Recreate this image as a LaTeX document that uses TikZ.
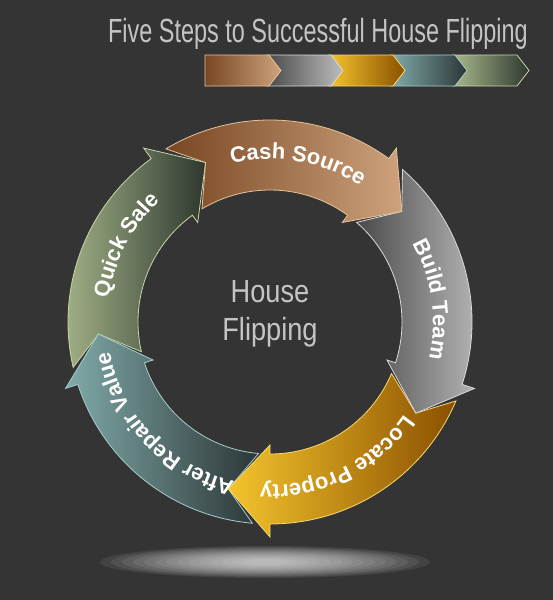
\documentclass[tikz,border=0pt]{standalone}
\usepackage{fontspec}
\setmainfont{Liberation Sans}
\newfontfamily\titlefam[FakeStretch=0.7]{Liberation Sans}
\newfontfamily\hubfam[FakeStretch=0.85]{Liberation Sans}
\usepackage{tikz}
\usetikzlibrary{positioning,decorations.text}

\definecolor{bgcol}{HTML}{343434}
\definecolor{titlegray}{HTML}{C4C4C4}
\definecolor{cashL}{HTML}{774722}\definecolor{cashR}{HTML}{CDA27C}\definecolor{cashO}{HTML}{E6C29A}
\definecolor{teamL}{HTML}{4A4A4A}\definecolor{teamR}{HTML}{BDBDBD}\definecolor{teamO}{HTML}{DADADA}
\definecolor{propL}{HTML}{F4C42C}\definecolor{propR}{HTML}{8A5000}\definecolor{propO}{HTML}{F8D870}
\definecolor{arvL}{HTML}{80ABAA}\definecolor{arvR}{HTML}{2C3636}\definecolor{arvO}{HTML}{A8CCCC}
\definecolor{saleL}{HTML}{A9B98C}\definecolor{saleR}{HTML}{2E382F}\definecolor{saleO}{HTML}{C8D6A8}

\newcommand{\segfont}{\bfseries\fontsize{22}{22}\selectfont}

% one arrow of the ring: tip angle, colour prefix, label
\newcommand{\ringseg}[3]{%
  \pgfmathsetmacro{\tailA}{#1+81}%
  \pgfmathsetmacro{\headA}{#1+14}%
  \pgfmathsetmacro{\notchA}{#1+72}%
  \pgfmathsetmacro{\textA}{#1+80}%
  \path[segment, left color=#2L, right color=#2R, draw=#2O]
    (\tailA:202) arc[start angle=\tailA, end angle=\headA, radius=202]
    -- (\headA:215) -- (#1:172) -- (\headA:123) -- (\headA:132)
    arc[start angle=\headA, end angle=\tailA, radius=132]
    -- (\notchA:172) -- cycle;
  \path[decorate, decoration={text along path, text align=center, text color=white,
    text={|\segfont|#3}}] (\textA:163) arc[start angle=\textA, end angle=#1, radius=163];
}

% one chevron of the legend: left x, colour prefix, notch depth
\newcommand{\legchev}[3]{%
  \path[segment, left color=#2L, right color=#2R, draw=#2O]
    (#1,-55) -- ++(64,0) -- ++(12,-15.5) -- ++(-12,-15.5) -- ++(-64,0)
    -- ++(#3,15.5) -- cycle;
}

\begin{document}
\begin{tikzpicture}[x=1pt,y=1pt]
\tikzstyle{segment}=[line width=0.8pt, line join=miter]
\tikzstyle{hubtext}=[align=center, text=titlegray, inner sep=0pt, font=\hubfam\fontsize{32}{38}\selectfont]

\useasboundingbox (0,0) rectangle (553,-600);
\fill[bgcol] (0,0) rectangle (553,-600);

\node[anchor=base east, inner sep=0pt, text=titlegray, font=\titlefam\fontsize{33.5}{34}\selectfont]
  (title) at (528,-42) {Five Steps to Successful House Flipping};

\legchev{453}{sale}{11}
\legchev{391}{arv}{11}
\legchev{329}{prop}{11}
\legchev{267}{team}{11}
\legchev{205}{cash}{0}

\coordinate (hub) at (270,-322);
\begin{scope}[shift={(hub)}]
\ringseg{112}{sale}{Quick Sale}
\ringseg{184}{arv}{After Repair Value}
\ringseg{256}{prop}{Locate Property}
\ringseg{328}{team}{Build Team}
\ringseg{40}{cash}{Cash Source}
\end{scope}

\node[hubtext] (house) at (270,-314) {House\\Flipping};

% reflection under the ring
\coordinate (glow) at (265,-562);
\foreach \s in {0,...,13}
  \fill[white, fill opacity=0.08] (glow) ellipse[x radius={165-11*\s}, y radius={16-1*\s}];
\end{tikzpicture}
\end{document}
